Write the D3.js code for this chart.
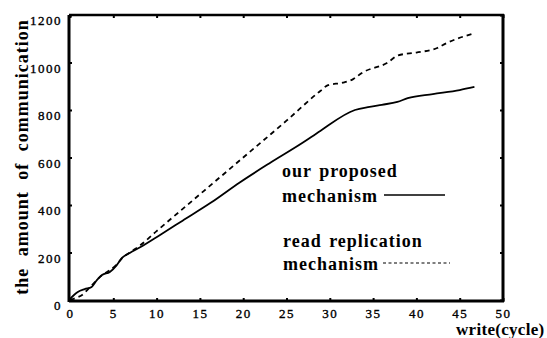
<!DOCTYPE html>
<html><head><meta charset="utf-8">
<script src="https://cdn.jsdelivr.net/npm/d3@7"></script>
<style>
html,body{margin:0;padding:0;background:#fff;}
text{font-family:"Liberation Serif","DejaVu Serif",serif;fill:#000;}
</style></head>
<body><svg id="c" width="547" height="338"></svg>
<script>
const proposedX = [0,0.9,1.7,2.5,3.1,3.7,4.6,5.4,6,6.9,8.1,10.4,13,16.2,19.6,23,26.9,28.9,32.9,34.6,36,37.8,39,41.9,45,46.7];
const proposedY = [5,34,46,55,84,105,118,147,177,198,222,274,334,408,495,575,663,712,800,813,822,834,850,867,884,897];
const replicationX = [0,0.6,1.4,2.2,3.1,3.7,4.6,5.4,6,6.9,8.1,10,15,20,25,28.9,29.8,31.5,32.7,33.7,36.6,37.9,40,42.4,43.5,46.4];
const replicationY = [0,8,21,50,84,105,125,150,175,200,230,290,445,600,755,880,905,915,930,956,998,1030,1042,1061,1082,1120];
const xTicks = [0,5,10,15,20,25,30,35,40,45,50];
const yTicks = [0,200,400,600,800,1000,1200];
const yLabel = "the amount of communication";
const xLabel = "write(cycle)";
const legend1 = ["our proposed","mechanism"];
const legend2 = ["read replication","mechanism"];

const FONT = "Liberation Serif";
const svg = d3.select("#c");
const x = d3.scaleLinear().domain([0,50]).range([70,503]);
const y = d3.scaleLinear().domain([0,1200]).range([300,15]);

// frame
svg.append("line").attr("x1",x(0)-1).attr("x2",x(50)+1).attr("y1",y(1200)).attr("y2",y(1200)).attr("stroke","#000").attr("stroke-width",2.5);
svg.append("line").attr("x1",x(0)-1).attr("x2",x(50)+1).attr("y1",y(0)+1).attr("y2",y(0)+1).attr("stroke","#000").attr("stroke-width",3);
svg.append("line").attr("x1",x(0)-1).attr("x2",x(0)-1).attr("y1",y(1200)).attr("y2",y(0)+2).attr("stroke","#000").attr("stroke-width",3);
svg.append("line").attr("x1",x(50)).attr("x2",x(50)).attr("y1",y(1200)-1).attr("y2",y(0)+2).attr("stroke","#000").attr("stroke-width",3);

// axes with inward ticks
const gBottom = svg.append("g").attr("transform",`translate(0,${y(0)+1})`)
  .call(d3.axisBottom(x).tickValues(xTicks).tickSize(-3).tickPadding(9).tickFormat(d3.format("d")));
const gTop = svg.append("g").attr("transform",`translate(0,${y(1200)})`)
  .call(d3.axisTop(x).tickValues(xTicks).tickSize(-3).tickFormat(""));
const gLeft = svg.append("g").attr("transform",`translate(${x(0)-1},0)`)
  .call(d3.axisLeft(y).tickValues(yTicks).tickSize(-3).tickPadding(7).tickFormat(d3.format("d")));
const gRight = svg.append("g").attr("transform",`translate(${x(50)},0)`)
  .call(d3.axisRight(y).tickValues(yTicks).tickSize(-3).tickFormat(""));
[gBottom,gTop,gLeft,gRight].forEach(g=>{
  g.select(".domain").remove();
  g.selectAll(".tick line").attr("stroke","#000").attr("stroke-width",2);
  g.selectAll("text").attr("font-family",FONT).attr("font-size",13).attr("fill","#000")
    .attr("stroke","#000").attr("stroke-width",0.35).style("letter-spacing","1.5px");
});
gBottom.selectAll(".tick text").attr("dy","0.6em");
gLeft.selectAll(".tick text").attr("dy","0.75em");

// lines
const line = d3.line().x(d=>x(d[0])).y(d=>y(d[1])).curve(d3.curveMonotoneX);
svg.append("path").datum(replicationX.map((v,i)=>[v,replicationY[i]]))
  .attr("d",line).attr("fill","none").attr("stroke","#000").attr("stroke-width",1.8).attr("stroke-dasharray","5,4");
svg.append("path").datum(proposedX.map((v,i)=>[v,proposedY[i]]))
  .attr("d",line).attr("fill","none").attr("stroke","#000").attr("stroke-width",1.8);

// labels
svg.append("text").attr("transform","translate(28,157) rotate(-90)").attr("text-anchor","middle")
  .attr("font-family",FONT).attr("font-weight","bold").attr("font-size",18)
  .style("letter-spacing","1px").style("word-spacing","6px").text(yLabel);
svg.append("text").attr("x",456).attr("y",335).attr("font-family",FONT).attr("font-weight","bold")
  .attr("font-size",17).style("letter-spacing","0.3px").text(xLabel);

// legend
const lg = svg.append("g").attr("font-family",FONT).attr("font-weight","bold").attr("font-size",18)
  .style("letter-spacing","1px").style("word-spacing","2px");
lg.append("text").attr("x",282).attr("y",177).text(legend1[0]);
lg.append("text").attr("x",282).attr("y",202).text(legend1[1]);
lg.append("text").attr("x",283).attr("y",247).text(legend2[0]);
lg.append("text").attr("x",283).attr("y",270).text(legend2[1]);
svg.append("line").attr("x1",384).attr("x2",445).attr("y1",195).attr("y2",195).attr("stroke","#000").attr("stroke-width",1.5);
svg.append("line").attr("x1",383).attr("x2",450).attr("y1",263).attr("y2",263).attr("stroke","#000").attr("stroke-width",1.2).attr("stroke-dasharray","3,2.5");
</script></body></html>
